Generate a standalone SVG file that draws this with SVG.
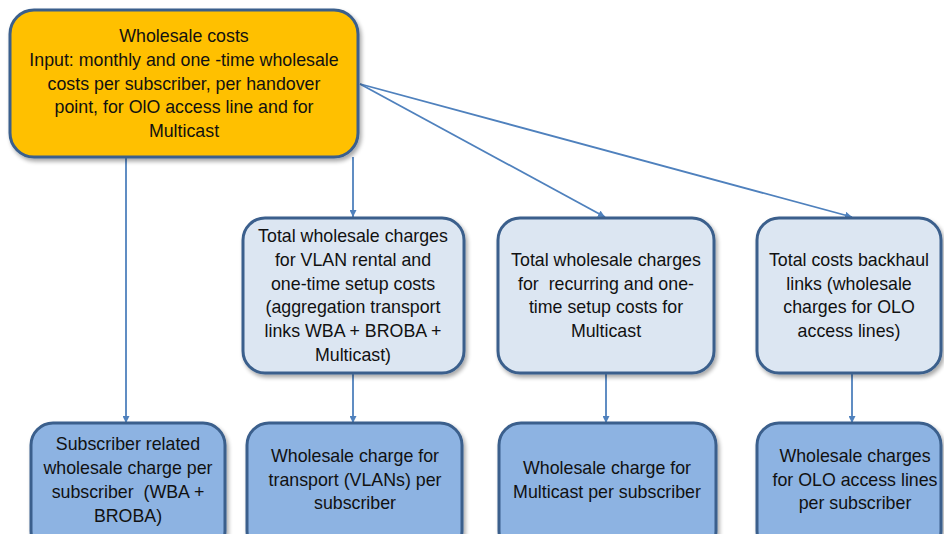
<svg xmlns="http://www.w3.org/2000/svg" width="944" height="534" viewBox="0 0 944 534">
  <defs>
    <filter id="shadow" x="-10%" y="-10%" width="125%" height="130%">
      <feGaussianBlur in="SourceAlpha" stdDeviation="2"/>
      <feOffset dx="2" dy="3" result="off"/>
      <feComponentTransfer><feFuncA type="linear" slope="0.35"/></feComponentTransfer>
      <feMerge><feMergeNode/><feMergeNode in="SourceGraphic"/></feMerge>
    </filter>
    <marker id="arrow" viewBox="0 0 10 10" refX="10" refY="5" markerWidth="7" markerHeight="7" markerUnits="userSpaceOnUse" orient="auto">
      <path d="M0,0 L10,5 L0,10 z" fill="#4F81BD"/>
    </marker>
  </defs>
  <style>
    .box { stroke: #3A5F8C; stroke-width: 3; filter: url(#shadow); }
    .top { fill: #FFC000; }
    .mid { fill: #DCE6F2; }
    .low { fill: #8DB3E2; }
    text { font-family: "Liberation Sans", Arial, sans-serif; font-size: 17.8px; fill: #111; text-anchor: middle; white-space: pre; }
    .conn line { stroke: #4F81BD; stroke-width: 1.8; marker-end: url(#arrow); }
  </style>
  <rect width="944" height="534" fill="#FFFFFF"/>

  <!-- connectors -->
  <g class="conn">
    <line x1="126" y1="157" x2="126" y2="423"/>
    <line x1="353" y1="157" x2="353" y2="217"/>
    <line x1="360" y1="84" x2="605" y2="217"/>
    <line x1="360" y1="84" x2="852" y2="217"/>
    <line x1="353" y1="374" x2="353" y2="423"/>
    <line x1="606" y1="374" x2="606" y2="423"/>
    <line x1="852" y1="374" x2="852" y2="423"/>
  </g>

  <!-- source node -->
  <g id="wholesale-costs">
    <rect class="box top" x="10" y="10" width="348" height="147" rx="24"/>
    <text x="184" y="42">Wholesale costs</text>
    <text x="184" y="66">Input: monthly and one -time wholesale</text>
    <text x="184" y="90">costs per subscriber, per handover</text>
    <text x="184" y="113">point, for OlO access line and for</text>
    <text x="184" y="137">Multicast</text>
  </g>

  <!-- totals -->
  <g id="total-vlan">
    <rect class="box mid" x="243" y="218" width="221" height="155" rx="22"/>
    <text x="353" y="242">Total wholesale charges</text>
    <text x="353" y="266">for VLAN rental and</text>
    <text x="353" y="290">one-time setup costs</text>
    <text x="353" y="313">(aggregation transport</text>
    <text x="353" y="337">links WBA + BROBA +</text>
    <text x="353" y="361">Multicast)</text>
  </g>
  <g id="total-multicast">
    <rect class="box mid" x="498" y="218" width="216" height="155" rx="22"/>
    <text x="606" y="266">Total wholesale charges</text>
    <text x="606" y="290">for  recurring and one-</text>
    <text x="606" y="313">time setup costs for</text>
    <text x="606" y="337">Multicast</text>
  </g>
  <g id="total-backhaul">
    <rect class="box mid" x="757" y="218" width="184" height="155" rx="22"/>
    <text x="849" y="266">Total costs backhaul</text>
    <text x="849" y="290">links (wholesale</text>
    <text x="849" y="313">charges for OLO</text>
    <text x="849" y="337">access lines)</text>
  </g>

  <!-- per-subscriber results -->
  <g id="per-sub-wba">
    <rect class="box low" x="31" y="423" width="194" height="130" rx="22"/>
    <text x="128" y="450">Subscriber related</text>
    <text x="128" y="474">wholesale charge per</text>
    <text x="128" y="498">subscriber  (WBA +</text>
    <text x="128" y="522">BROBA)</text>
  </g>
  <g id="per-sub-vlan">
    <rect class="box low" x="247" y="423" width="215" height="130" rx="22"/>
    <text x="355" y="462">Wholesale charge for</text>
    <text x="355" y="486">transport (VLANs) per</text>
    <text x="355" y="509">subscriber</text>
  </g>
  <g id="per-sub-multicast">
    <rect class="box low" x="499" y="423" width="217" height="130" rx="22"/>
    <text x="607" y="474">Wholesale charge for</text>
    <text x="607" y="498">Multicast per subscriber</text>
  </g>
  <g id="per-sub-olo">
    <rect class="box low" x="757" y="423" width="184" height="130" rx="22"/>
    <text x="855" y="462">Wholesale charges</text>
    <text x="855" y="486">for OLO access lines</text>
    <text x="855" y="509">per subscriber</text>
  </g>
</svg>
